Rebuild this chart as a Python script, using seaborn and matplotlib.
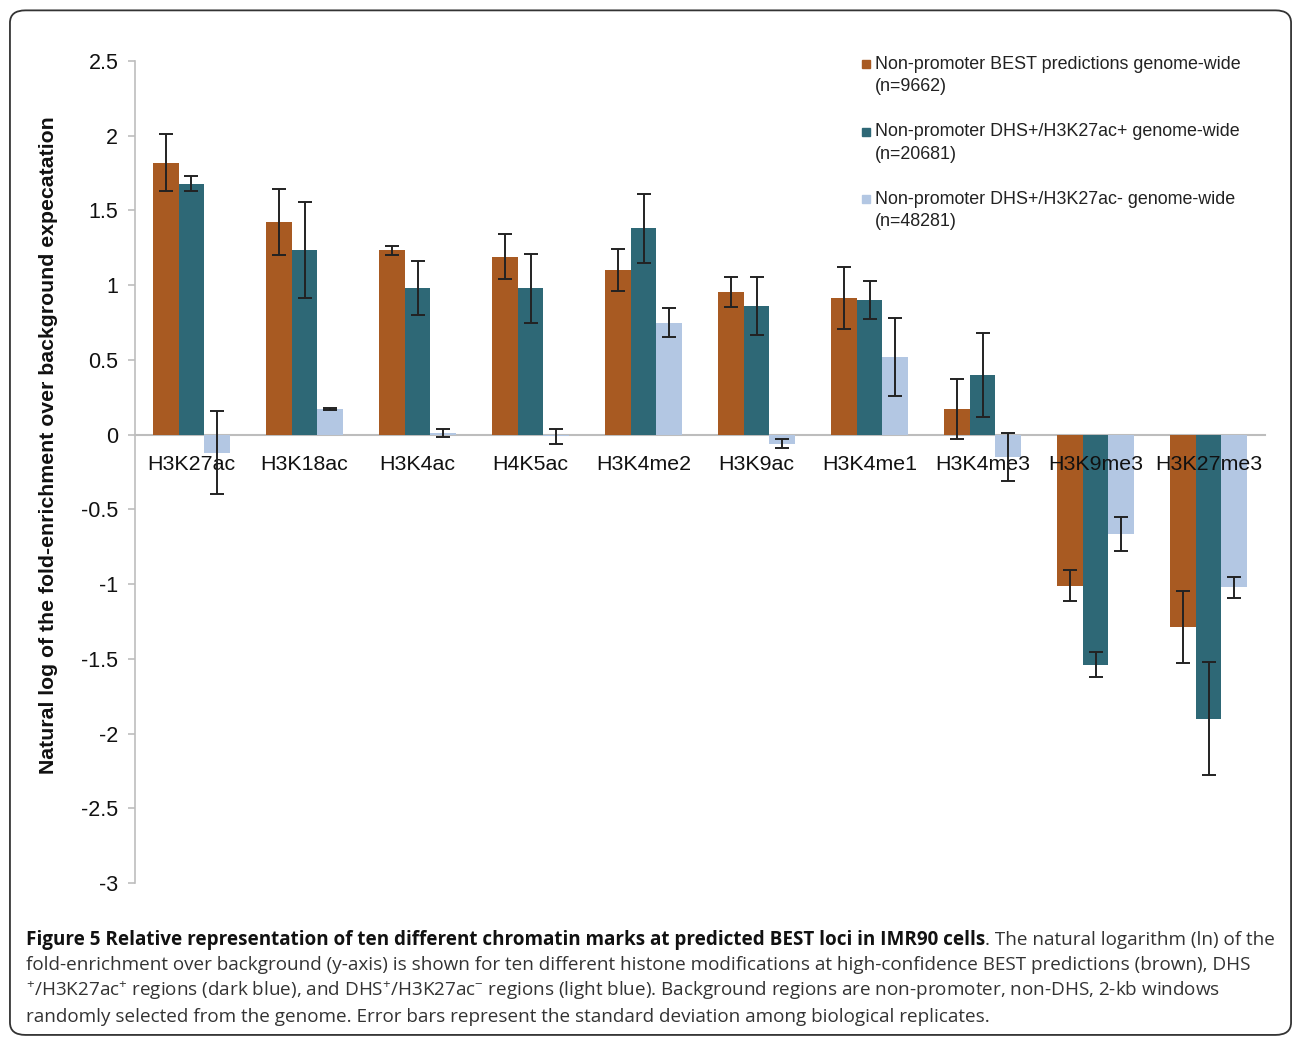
import numpy as np
import pandas as pd
import matplotlib
matplotlib.use('Agg')
import matplotlib.pyplot as plt
import seaborn as sns
from matplotlib.patches import FancyBboxPatch
from matplotlib.lines import Line2D
from matplotlib.ticker import FixedLocator, FuncFormatter

# data
marks = ['H3K27ac', 'H3K18ac', 'H3K4ac', 'H4K5ac', 'H3K4me2',
         'H3K9ac', 'H3K4me1', 'H3K4me3', 'H3K9me3', 'H3K27me3']
series = ['Non-promoter BEST predictions genome-wide\n(n=9662)',
          'Non-promoter DHS+/H3K27ac+ genome-wide\n(n=20681)',
          'Non-promoter DHS+/H3K27ac- genome-wide\n(n=48281)']
best = [1.82, 1.425, 1.235, 1.19, 1.10, 0.957, 0.915, 0.17, -1.01, -1.285]
best_sd = [0.19, 0.22, 0.03, 0.15, 0.14, 0.10, 0.205, 0.20, 0.105, 0.24]
dhs_ac = [1.68, 1.235, 0.98, 0.98, 1.38, 0.86, 0.90, 0.40, -1.54, -1.90]
dhs_ac_sd = [0.05, 0.32, 0.18, 0.23, 0.23, 0.195, 0.125, 0.28, 0.085, 0.38]
dhs_noac = [-0.12, 0.17, 0.01, -0.01, 0.75, -0.06, 0.52, -0.15, -0.665, -1.02]
dhs_noac_sd = [0.28, 0.005, 0.025, 0.05, 0.095, 0.03, 0.26, 0.16, 0.115, 0.07]
yticks = [2.5, 2, 1.5, 1, 0.5, 0, -0.5, -1, -1.5, -2, -2.5, -3]

colors = ['#A85A22', '#2E6876', '#B3C7E3']

df = pd.DataFrame({
    'mark': marks * 3,
    'series': [series[0]] * 10 + [series[1]] * 10 + [series[2]] * 10,
    'value': best + dhs_ac + dhs_noac,
})
sds = [best_sd, dhs_ac_sd, dhs_noac_sd]

sns.set_style('white')
plt.rcParams['font.family'] = ['Liberation Sans', 'DejaVu Sans']
plt.rcParams['axes.unicode_minus'] = False

fig = plt.figure(figsize=(12.93, 10.37), dpi=100)
ax = fig.add_axes([0.1044, 0.1485, 0.874, 0.7927])

sns.barplot(data=df, x='mark', y='value', hue='series', order=marks,
            hue_order=series, palette=colors, width=0.68, gap=0,
            errorbar=None, saturation=1, legend=False, ax=ax, zorder=1,
            linewidth=0)

# error bars (standard deviation), placed on the bars seaborn drew
for cont, sd in zip(ax.containers, sds):
    xs = [b.get_x() + b.get_width() / 2 for b in cont]
    vals = [b.get_y() + b.get_height() for b in cont]
    ax.errorbar(xs, vals, yerr=sd, fmt='none', ecolor='#222222',
                elinewidth=1.4, capsize=5, capthick=1.4, zorder=3)

ax.set_axisbelow(False)
ax.set_xlim(-0.5, 9.5)
ax.set_ylim(-3, 2.5)
ax.yaxis.set_major_locator(FixedLocator(yticks))
ax.yaxis.set_major_formatter(FuncFormatter(lambda v, p: f'{v:g}'))

for s in ['top', 'right']:
    ax.spines[s].set_visible(False)
ax.spines['left'].set_color('#BDBDBD')
ax.spines['left'].set_linewidth(1.2)
ax.spines['bottom'].set_position(('data', 0))
ax.spines['bottom'].set_color('#BDBDBD')
ax.spines['bottom'].set_linewidth(1.5)
ax.spines['bottom'].set_zorder(0.8)

ax.set_xticks(range(len(marks)))
ax.set_xticklabels(marks)
ax.set_xticks(np.arange(-0.5, 10, 1), minor=True)
ax.tick_params(axis='x', which='major', length=0, labelsize=15.4, pad=15, colors='#111111')
ax.tick_params(axis='x', which='minor', length=6, width=1.2, color='#BDBDBD', direction='out')
ax.tick_params(axis='y', length=5, width=1.2, color='#BDBDBD', labelsize=15.5,
               pad=7, labelcolor='#111111', left=True)
ax.set_xlabel('')
ax.set_ylabel('Natural log of the fold-enrichment over background expecatation',
              fontsize=15.3, fontweight='bold', color='#111111')
ax.yaxis.set_label_coords(-0.068, 0.533)

# legend
leg_y = [0.935, 0.870, 0.805]
for c, lab, y in zip(colors, series, leg_y):
    fig.add_artist(Line2D([0.6700], [y + 0.003], marker='s', markersize=6,
                          color=c, linestyle='none', transform=fig.transFigure))
    fig.text(0.6765, y + 0.011, lab, fontsize=12.85, va='top', ha='left',
             color='#222222', linespacing=1.4)

# frame
fig.add_artist(FancyBboxPatch((0.0077, 0.002), 0.9908, 0.988,
                              boxstyle='round,pad=0,rounding_size=0.012',
                              transform=fig.transFigure, fill=False,
                              edgecolor='#333333', linewidth=1.3))

# caption
plt.rcParams['mathtext.fontset'] = 'custom'
plt.rcParams['mathtext.rm'] = 'Open Sans'
plt.rcParams['mathtext.default'] = 'rm'
cap_font = ['Open Sans', 'DejaVu Sans']
cap_size = 13.6
fig.canvas.draw()
r = fig.canvas.get_renderer()
x0 = 0.020
t1 = fig.text(x0, 0.0935, 'Figure 5 Relative representation of ten different chromatin marks '
              'at predicted BEST loci in IMR90 cells', family=cap_font, fontsize=cap_size,
              fontweight='bold', va='center', color='#111111')
bb = t1.get_window_extent(renderer=r)
fig.text(bb.x1 / fig.bbox.width, 0.0935, '. The natural logarithm (ln) of the',
         family=cap_font, fontsize=cap_size, va='center', color='#333333')
lines = ['fold-enrichment over background (y-axis) is shown for ten different histone '
         'modifications at high-confidence BEST predictions (brown), DHS',
         r'$^{+}$/H3K27ac$^{+}$ regions (dark blue), and DHS$^{+}$/H3K27ac$^{-}$ regions '
         '(light blue). Background regions are non-promoter, non-DHS, 2-kb windows',
         'randomly selected from the genome. Error bars represent the standard deviation '
         'among biological replicates.']
for i, ln in enumerate(lines):
    fig.text(x0, 0.0695 - i * 0.0252, ln, family=cap_font, fontsize=cap_size,
             va='center', color='#333333')

fig.savefig('out.png', dpi=100)
